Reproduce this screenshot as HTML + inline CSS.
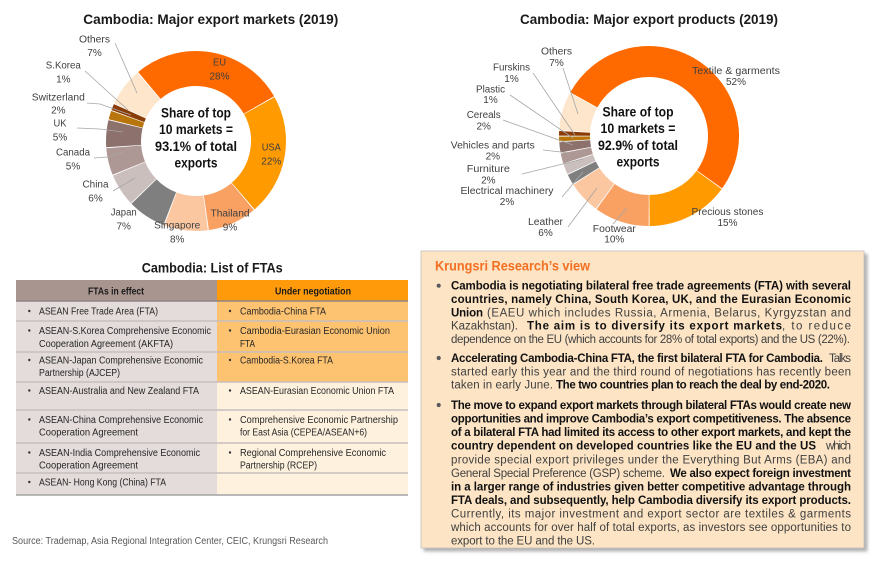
<!DOCTYPE html>
<html>
<head>
<meta charset="utf-8">
<style>
html,body{margin:0;padding:0;background:#fff;}
svg{display:block;font-family:"Liberation Sans",Arial,sans-serif;}
</style>
</head>
<body>
<svg width="870" height="561" viewBox="0 0 870 561" xmlns="http://www.w3.org/2000/svg">
<defs>
<filter id="sh" x="-5%" y="-5%" width="115%" height="115%">
<feDropShadow dx="3" dy="3" stdDeviation="1.5" flood-color="#7a7a7a" flood-opacity="0.6"/>
</filter>
</defs>
<rect width="870" height="561" fill="#fff"/>

<!-- ===== Left donut ===== -->
<text x="210.8" y="24" text-anchor="middle" font-size="14" font-weight="bold" fill="#1a1a1a" textLength="255" lengthAdjust="spacingAndGlyphs">Cambodia: Major export markets (2019)</text>
<g fill="none" stroke-width="35">
<circle cx="196" cy="141" r="72.5" stroke="#FF6A00" stroke-dasharray="126.75 1000" transform="rotate(-130 196 141)"/>
<circle cx="196" cy="141" r="72.5" stroke="#FF9A00" stroke-dasharray="99.4 1000" transform="rotate(-29.2 196 141)"/>
<circle cx="196" cy="141" r="72.5" stroke="#F9A063" stroke-dasharray="40.2 1000" transform="rotate(50 196 141)"/>
<circle cx="196" cy="141" r="72.5" stroke="#FBC7A1" stroke-dasharray="35.6 1000" transform="rotate(82.4 196 141)"/>
<circle cx="196" cy="141" r="72.5" stroke="#7F7F7F" stroke-dasharray="31.1 1000" transform="rotate(111.2 196 141)"/>
<circle cx="196" cy="141" r="72.5" stroke="#CBBFBE" stroke-dasharray="26.5 1000" transform="rotate(136.4 196 141)"/>
<circle cx="196" cy="141" r="72.5" stroke="#AE9895" stroke-dasharray="22.0 1000" transform="rotate(158 196 141)"/>
<circle cx="196" cy="141" r="72.5" stroke="#8C716D" stroke-dasharray="22.0 1000" transform="rotate(176 196 141)"/>
<circle cx="196" cy="141" r="72.5" stroke="#B8750C" stroke-dasharray="7.0 1000" transform="rotate(194 196 141)"/>
<circle cx="196" cy="141" r="72.5" stroke="#8B3B05" stroke-dasharray="5.2 1000" transform="rotate(200.12 196 141)"/>
<circle cx="196" cy="141" r="72.5" stroke="#FDE6CB" stroke-dasharray="31.1 1000" transform="rotate(204.8 196 141)"/>
</g>
<g stroke="#A6A6A6" stroke-width="0.8" fill="none">
<polyline points="115,43 137,93"/>
<polyline points="85,71 128,110"/>
<polyline points="87,103 100,104 131,115"/>
<polyline points="77,128 100,129 123,132"/>
<polyline points="94,158 108,157 123,152"/>
<polyline points="113,191 135,178"/>
</g>
<g font-size="14" font-weight="bold" fill="#111" text-anchor="middle">
<text x="196" y="117.5" textLength="70" lengthAdjust="spacingAndGlyphs">Share of top</text>
<text x="196" y="134" textLength="74" lengthAdjust="spacingAndGlyphs">10 markets =</text>
<text x="196" y="151" textLength="82" lengthAdjust="spacingAndGlyphs">93.1% of total</text>
<text x="196" y="167.5" textLength="43" lengthAdjust="spacingAndGlyphs">exports</text>
</g>
<g font-size="10" fill="#404040" text-anchor="middle">
<text x="94.5" y="42.5" textLength="31" lengthAdjust="spacingAndGlyphs">Others</text><text x="94.5" y="56">7%</text>
<text x="63.3" y="68.5" textLength="35" lengthAdjust="spacingAndGlyphs">S.Korea</text><text x="63.3" y="82.5">1%</text>
<text x="58.3" y="100.5" textLength="53" lengthAdjust="spacingAndGlyphs">Switzerland</text><text x="58.3" y="113.5">2%</text>
<text x="60" y="126.5" textLength="13" lengthAdjust="spacingAndGlyphs">UK</text><text x="60" y="140.5">5%</text>
<text x="73" y="155.5" textLength="34" lengthAdjust="spacingAndGlyphs">Canada</text><text x="73" y="169.5">5%</text>
<text x="95.5" y="187.5" textLength="26" lengthAdjust="spacingAndGlyphs">China</text><text x="95.5" y="201.5">6%</text>
<text x="123.7" y="215.5" textLength="26" lengthAdjust="spacingAndGlyphs">Japan</text><text x="123.7" y="229.5">7%</text>
<text x="177.2" y="228.5" textLength="46" lengthAdjust="spacingAndGlyphs">Singapore</text><text x="177.2" y="242.5">8%</text>
<text x="230" y="216.5" textLength="39" lengthAdjust="spacingAndGlyphs">Thailand</text><text x="230" y="230.5">9%</text>
<text x="271.3" y="150.5" textLength="19" lengthAdjust="spacingAndGlyphs">USA</text><text x="271.3" y="164.5">22%</text>
<text x="219.5" y="65.5" textLength="13" lengthAdjust="spacingAndGlyphs">EU</text><text x="219.5" y="79.5">28%</text>
</g>

<!-- ===== Right donut ===== -->
<text x="649" y="24" text-anchor="middle" font-size="14" font-weight="bold" fill="#1a1a1a" textLength="258" lengthAdjust="spacingAndGlyphs">Cambodia: Major export products (2019)</text>
<g fill="none" stroke-width="31">
<circle cx="649" cy="136" r="74.5" stroke="#FF6A00" stroke-dasharray="242.6 1000" transform="rotate(-151 649 136)"/>
<circle cx="649" cy="136" r="74.5" stroke="#FF9A00" stroke-dasharray="69.4 1000" transform="rotate(36.2 649 136)"/>
<circle cx="649" cy="136" r="74.5" stroke="#F9A063" stroke-dasharray="46.0 1000" transform="rotate(90.2 649 136)"/>
<circle cx="649" cy="136" r="74.5" stroke="#FBC7A1" stroke-dasharray="27.3 1000" transform="rotate(126.2 649 136)"/>
<circle cx="649" cy="136" r="74.5" stroke="#7F7F7F" stroke-dasharray="8.6 1000" transform="rotate(147.8 649 136)"/>
<circle cx="649" cy="136" r="74.5" stroke="#CBBFBE" stroke-dasharray="8.6 1000" transform="rotate(155 649 136)"/>
<circle cx="649" cy="136" r="74.5" stroke="#AE9895" stroke-dasharray="8.6 1000" transform="rotate(162.2 649 136)"/>
<circle cx="649" cy="136" r="74.5" stroke="#8C716D" stroke-dasharray="8.6 1000" transform="rotate(169.4 649 136)"/>
<circle cx="649" cy="136" r="74.5" stroke="#B8750C" stroke-dasharray="3.9 1000" transform="rotate(176.6 649 136)"/>
<circle cx="649" cy="136" r="74.5" stroke="#8B3B05" stroke-dasharray="3.9 1000" transform="rotate(180.2 649 136)"/>
<circle cx="649" cy="136" r="74.5" stroke="#FDE6CB" stroke-dasharray="32.0 1000" transform="rotate(183.8 649 136)"/>
</g>
<g stroke="#A6A6A6" stroke-width="0.8" fill="none">
<polyline points="563,68 578,114"/>
<polyline points="533,73 575,135"/>
<polyline points="510,95 573,138"/>
<polyline points="503,120 573,145"/>
<polyline points="543,150 570,153"/>
<polyline points="522,174 583,159"/>
<polyline points="562,197 583,172"/>
<polyline points="568,227 597,188"/>
<polyline points="613,224 627,208"/>
</g>
<g font-size="14" font-weight="bold" fill="#111" text-anchor="middle">
<text x="638" y="116.5" textLength="71" lengthAdjust="spacingAndGlyphs">Share of top</text>
<text x="638" y="133" textLength="75" lengthAdjust="spacingAndGlyphs">10 markets =</text>
<text x="638" y="150" textLength="80" lengthAdjust="spacingAndGlyphs">92.9% of total</text>
<text x="638" y="166.5" textLength="43" lengthAdjust="spacingAndGlyphs">exports</text>
</g>
<g font-size="10" fill="#404040" text-anchor="middle">
<text x="556.5" y="54.5" textLength="31" lengthAdjust="spacingAndGlyphs">Others</text><text x="556.5" y="66">7%</text>
<text x="511.5" y="70.5" textLength="37" lengthAdjust="spacingAndGlyphs">Furskins</text><text x="511.5" y="82">1%</text>
<text x="490.5" y="92.5" textLength="29" lengthAdjust="spacingAndGlyphs">Plastic</text><text x="490.5" y="103">1%</text>
<text x="483.7" y="118" textLength="34" lengthAdjust="spacingAndGlyphs">Cereals</text><text x="483.7" y="129.3">2%</text>
<text x="492.8" y="148.5" textLength="84" lengthAdjust="spacingAndGlyphs">Vehicles and parts</text><text x="492.8" y="159.3">2%</text>
<text x="488.3" y="171.8" textLength="43" lengthAdjust="spacingAndGlyphs">Furniture</text><text x="488.3" y="183.5">2%</text>
<text x="507" y="194.2" textLength="93" lengthAdjust="spacingAndGlyphs">Electrical machinery</text><text x="507" y="205.2">2%</text>
<text x="545.5" y="225.2" textLength="35" lengthAdjust="spacingAndGlyphs">Leather</text><text x="545.5" y="235.8">6%</text>
<text x="614.3" y="231.8" textLength="43" lengthAdjust="spacingAndGlyphs">Footwear</text><text x="614.3" y="242.5">10%</text>
<text x="727.5" y="215.2" textLength="72" lengthAdjust="spacingAndGlyphs">Precious stones</text><text x="727.5" y="226.2">15%</text>
<text x="736" y="74.2" textLength="88" lengthAdjust="spacingAndGlyphs">Textile &amp; garments</text><text x="736" y="85.2">52%</text>
</g>

<!-- ===== Table ===== -->
<text x="212.2" y="272.5" text-anchor="middle" font-size="14" font-weight="bold" fill="#1a1a1a" textLength="141" lengthAdjust="spacingAndGlyphs">Cambodia: List of FTAs</text>
<rect x="16" y="280" width="201" height="21" fill="#A8958F"/>
<rect x="217" y="280" width="191" height="21" fill="#FF9A0A"/>
<rect x="16" y="301" width="201" height="194" fill="#E4DBDB"/>
<rect x="217" y="301" width="191" height="81" fill="#FDC371"/>
<rect x="217" y="382" width="191" height="113" fill="#FEF2DF"/>
<g stroke-width="1.5">
<line x1="16" y1="301" x2="408" y2="301" stroke="#8F8484"/>
<line x1="16" y1="321" x2="408" y2="321" stroke="#C7BEBE"/>
<line x1="16" y1="352" x2="408" y2="352" stroke="#C7BEBE"/>
<line x1="16" y1="382" x2="408" y2="382" stroke="#C7BEBE"/>
<line x1="16" y1="410" x2="408" y2="410" stroke="#C7BEBE"/>
<line x1="16" y1="443" x2="408" y2="443" stroke="#C7BEBE"/>
<line x1="16" y1="473" x2="408" y2="473" stroke="#C7BEBE"/>
<line x1="16" y1="495" x2="408" y2="495" stroke="#A3A3A3"/>
</g>
<g font-size="10" font-weight="bold" fill="#1a1a1a" text-anchor="middle">
<text x="116" y="294.5" textLength="56" lengthAdjust="spacingAndGlyphs">FTAs in effect</text>
<text x="313" y="294.5" textLength="76" lengthAdjust="spacingAndGlyphs">Under negotiation</text>
</g>
<g fill="#333">
<circle cx="29.3" cy="311" r="1.2"/><circle cx="230" cy="311" r="1.2"/>
<circle cx="29.3" cy="330.5" r="1.2"/><circle cx="230" cy="330.5" r="1.2"/>
<circle cx="29.3" cy="360" r="1.2"/><circle cx="230" cy="360" r="1.2"/>
<circle cx="29.3" cy="390.5" r="1.2"/><circle cx="230" cy="390.5" r="1.2"/>
<circle cx="29.3" cy="419.5" r="1.2"/><circle cx="230" cy="419.5" r="1.2"/>
<circle cx="29.3" cy="452.5" r="1.2"/><circle cx="230" cy="452.5" r="1.2"/>
<circle cx="29.3" cy="482" r="1.2"/>
</g>
<g font-size="10" fill="#262626">
<text x="39" y="314.5" textLength="119" lengthAdjust="spacingAndGlyphs">ASEAN Free Trade Area (FTA)</text>
<text x="240" y="314.5" textLength="86" lengthAdjust="spacingAndGlyphs">Cambodia-China FTA</text>
<text x="39" y="334" textLength="172" lengthAdjust="spacingAndGlyphs">ASEAN-S.Korea Comprehensive Economic</text>
<text x="39" y="347" textLength="134" lengthAdjust="spacingAndGlyphs">Cooperation Agreement (AKFTA)</text>
<text x="240" y="334" textLength="150" lengthAdjust="spacingAndGlyphs">Cambodia-Eurasian Economic Union</text>
<text x="240" y="347" textLength="15" lengthAdjust="spacingAndGlyphs">FTA</text>
<text x="39" y="363.5" textLength="164" lengthAdjust="spacingAndGlyphs">ASEAN-Japan Comprehensive Economic</text>
<text x="39" y="376" textLength="81" lengthAdjust="spacingAndGlyphs">Partnership (AJCEP)</text>
<text x="240" y="363.5" textLength="93" lengthAdjust="spacingAndGlyphs">Cambodia-S.Korea FTA</text>
<text x="39" y="394" textLength="160" lengthAdjust="spacingAndGlyphs">ASEAN-Australia and New Zealand FTA</text>
<text x="240" y="394" textLength="154" lengthAdjust="spacingAndGlyphs">ASEAN-Eurasian Economic Union FTA</text>
<text x="39" y="423" textLength="164" lengthAdjust="spacingAndGlyphs">ASEAN-China Comprehensive Economic</text>
<text x="39" y="435.5" textLength="99" lengthAdjust="spacingAndGlyphs">Cooperation Agreement</text>
<text x="240" y="423" textLength="158" lengthAdjust="spacingAndGlyphs">Comprehensive Economic Partnership</text>
<text x="240" y="435.5" textLength="127" lengthAdjust="spacingAndGlyphs">for East Asia (CEPEA/ASEAN+6)</text>
<text x="39" y="456" textLength="161" lengthAdjust="spacingAndGlyphs">ASEAN-India Comprehensive Economic</text>
<text x="39" y="468.5" textLength="99" lengthAdjust="spacingAndGlyphs">Cooperation Agreement</text>
<text x="240" y="456" textLength="146" lengthAdjust="spacingAndGlyphs">Regional Comprehensive Economic</text>
<text x="240" y="468.5" textLength="77" lengthAdjust="spacingAndGlyphs">Partnership (RCEP)</text>
<text x="39" y="485.5" textLength="127" lengthAdjust="spacingAndGlyphs">ASEAN- Hong Kong (China) FTA</text>
</g>
<text x="12" y="544" font-size="10" fill="#595959" textLength="316" lengthAdjust="spacingAndGlyphs">Source: Trademap, Asia Regional Integration Center, CEIC, Krungsri Research</text>

<!-- ===== Text box ===== -->
<rect x="421" y="251" width="443" height="297" fill="#FCE4C5" stroke="#C4C0BC" stroke-width="0.8" filter="url(#sh)"/>
<text x="435" y="270.7" font-size="13.5" font-weight="bold" fill="#F36F21" textLength="155" lengthAdjust="spacingAndGlyphs">Krungsri Research’s view</text>
<g fill="#5a5a5a">
<circle cx="438.7" cy="285.7" r="2.1"/>
<circle cx="438.7" cy="358" r="2.1"/>
<circle cx="438.7" cy="405" r="2.1"/>
</g>
<g font-size="11.5" fill="#404040">
<text x="451" y="289.7" font-weight="bold" fill="#111" textLength="400" lengthAdjust="spacing">Cambodia is negotiating bilateral free trade agreements (FTA) with several</text>
<text x="451" y="303" font-weight="bold" fill="#111" textLength="400" lengthAdjust="spacing">countries, namely China, South Korea, UK, and the Eurasian Economic</text>
<text x="451" y="316.3" font-weight="bold" fill="#111" textLength="32" lengthAdjust="spacing">Union</text>
<text x="487" y="316.3" textLength="364" lengthAdjust="spacing">(EAEU which includes Russia, Armenia, Belarus, Kyrgyzstan and</text>
<text x="451" y="329.7" textLength="67" lengthAdjust="spacing">Kazakhstan).</text>
<text x="527" y="329.7" font-weight="bold" fill="#111" textLength="255" lengthAdjust="spacing">The aim is to diversify its export markets</text>
<text x="782" y="329.7" textLength="69" lengthAdjust="spacing">, to reduce</text>
<text x="451" y="343" textLength="399" lengthAdjust="spacing">dependence on the EU (which accounts for 28% of total exports) and the US (22%).</text>

<text x="451" y="362" font-weight="bold" fill="#111" textLength="372" lengthAdjust="spacing">Accelerating Cambodia-China FTA, the first bilateral FTA for Cambodia.</text>
<text x="829" y="362" textLength="22" lengthAdjust="spacing">Talks</text>
<text x="451" y="375.3" textLength="400" lengthAdjust="spacing">started early this year and the third round of negotiations has recently been</text>
<text x="451" y="388.7" textLength="102" lengthAdjust="spacing">taken in early June.</text>
<text x="556" y="388.7" font-weight="bold" fill="#111" textLength="274" lengthAdjust="spacing">The two countries plan to reach the deal by end-2020.</text>

<text x="451" y="409" font-weight="bold" fill="#111" textLength="400" lengthAdjust="spacing">The move to expand export markets through bilateral FTAs would create new</text>
<text x="451" y="422.6" font-weight="bold" fill="#111" textLength="400" lengthAdjust="spacing">opportunities and improve Cambodia’s export competitiveness. The absence</text>
<text x="451" y="436.1" font-weight="bold" fill="#111" textLength="400" lengthAdjust="spacing">of a bilateral FTA had limited its access to other export markets, and kept the</text>
<text x="451" y="449.7" font-weight="bold" fill="#111" textLength="365" lengthAdjust="spacing">country dependent on developed countries like the EU and the US</text>
<text x="826" y="449.7" textLength="25" lengthAdjust="spacing">which</text>
<text x="451" y="463.3" textLength="400" lengthAdjust="spacing">provide special export privileges under the Everything But Arms (EBA) and</text>
<text x="451" y="476.9" textLength="214" lengthAdjust="spacing">General Special Preference (GSP) scheme.</text>
<text x="670" y="476.9" font-weight="bold" fill="#111" textLength="181" lengthAdjust="spacing">We also expect foreign investment</text>
<text x="451" y="490.4" font-weight="bold" fill="#111" textLength="400" lengthAdjust="spacing">in a larger range of industries given better competitive advantage through</text>
<text x="451" y="504" font-weight="bold" fill="#111" textLength="400" lengthAdjust="spacing">FTA deals, and subsequently, help Cambodia diversify its export products.</text>
<text x="451" y="517.6" textLength="400" lengthAdjust="spacing">Currently, its major investment and export sector are textiles &amp; garments</text>
<text x="451" y="531.1" textLength="400" lengthAdjust="spacing">which accounts for over half of total exports, as investors see opportunities to</text>
<text x="451" y="544.7" textLength="144" lengthAdjust="spacing">export to the EU and the US.</text>
</g>
</svg>
</body>
</html>
